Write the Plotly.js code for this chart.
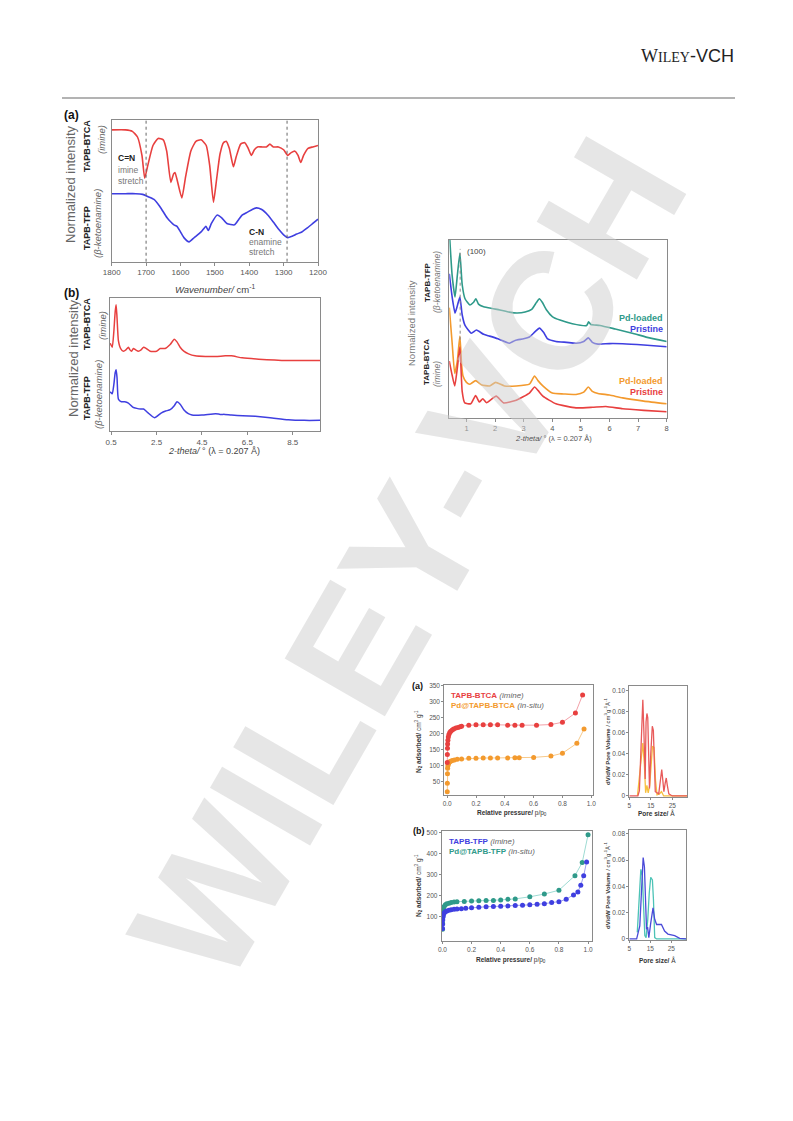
<!DOCTYPE html>
<html><head><meta charset="utf-8">
<script src="https://cdn.plot.ly/plotly-3.0.1.min.js"></script>
<style>html,body{margin:0;padding:0;background:#fff}#g{width:793px;height:1121px}</style>
</head><body><div id="g"></div>
<script>
// ---------- DATA ----------
// FTIR (a)
const ftirImineX = [1800,1760,1740,1725,1712,1704,1695,1680,1665,1650,1640,1628,1620,1616,1610,1596,1585,1570,1555,1540,1525,1515,1504,1495,1485,1475,1467,1458,1446,1438,1425,1413,1403,1394,1385,1376,1365,1350,1340,1330,1315,1300,1288,1278,1267,1258,1250,1242,1229,1215,1200];
const ftirImineY = [93,93,92,88,75,59,68,82,87,86,78,56,62,63,58,45,60,78,85,86,82,68,42,58,76,84,85,80,67,74,83,84,80,75,79,81,81,81,83,81,81,79,75,77,78,75,70,75,80,81,82];
const ftirEnamineX = [1800,1760,1730,1710,1695,1677,1660,1639,1628,1619,1610,1600,1590,1575,1560,1540,1526,1519,1510,1493,1480,1465,1443,1430,1420,1405,1390,1379,1365,1346,1330,1315,1300,1288,1275,1262,1247,1230,1215,1200];
const ftirEnamineY = [48,48,48,47.5,46,44,39,31,28,26,25,21,17,14,17,21,25,22,27,33,31,27,26,30,33,35,37,38,37,33,28,23,19,17,18,19.5,21,24,27,30];
const ftirTicks = [1800,1700,1600,1500,1400,1300,1200];
const ftirMarkers = [1700,1290];

// PXRD (b) small
const xrdImineX = [0.46,0.55,0.62,0.68,0.72,0.76,0.82,0.92,1.04,1.15,1.26,1.33,1.4,1.48,1.58,1.7,1.82,1.93,2.05,2.22,2.5,2.66,2.88,3.1,3.28,3.4,3.54,3.7,3.91,4.2,4.65,5.1,5.53,5.8,6.27,7.0,8.3,9.7];
const xrdImineY = [66,63,75,90,95,85,68,62,60,61,63,61,60,62,61,60,61,63,62,60,60,62,62,65,69,67,63,60,58,56.5,56,56,56.5,56.5,55,54,53,53];
const xrdEnamineX = [0.46,0.55,0.62,0.68,0.72,0.76,0.82,0.95,1.1,1.26,1.45,1.63,1.8,1.93,2.1,2.41,2.7,2.9,3.1,3.28,3.4,3.55,3.7,3.9,4.06,4.5,5.1,5.3,5.5,5.8,6.3,6.85,7.5,8.3,9.0,9.7];
const xrdEnamineY = [29.5,28,35,44,46,40,24,22,22,21,18,17,16.5,16.5,14,10,13.5,15,16,19,22,20,16,13,12,12,13,12.5,12.5,12,11.5,11,10,8.5,8,8];
const xrdSmallTicks = [0.5,2.5,4.5,6.5,8.5];

// PXRD right (Pd-loaded vs pristine)
const pdTfpX = [0.4,0.5,0.6,0.68,0.77,0.85,0.95,1.12,1.25,1.33,1.42,1.6,1.9,2.17,2.5,2.76,3.05,3.28,3.45,3.55,3.65,3.8,4.0,4.27,4.7,5.2,5.27,5.35,5.67,6.2,6.83,7.4,8.0];
const pdTfpY = [105,80,68,80,92.5,75,67,63.5,65,67,64,62.5,61.5,60.7,59.5,59,59.5,61,65,67,65,60.7,57,55,53,52,54,52.5,52,50,47.5,45,43];
const tfpX = [0.4,0.5,0.6,0.68,0.77,0.85,0.95,1.17,1.35,1.6,1.81,2.1,2.5,2.7,3.0,3.2,3.4,3.55,3.7,3.84,4.13,4.5,4.83,5.1,5.26,5.4,5.6,6.0,6.46,7.2,8.0];
const tfpY = [81,68,59,63,68,58,52,47.6,49.4,47,46,44.5,42,43.6,44.5,45.5,48.5,50.5,48,44.4,43,42.5,42,43,45,42.5,41.5,41.8,41.7,41,40];
const pdBtcaX = [0.4,0.5,0.59,0.68,0.77,0.83,0.88,1.0,1.12,1.32,1.52,1.81,2.02,2.33,2.74,3.2,3.38,3.5,3.67,4.0,4.4,4.83,5.1,5.26,5.4,5.6,6.0,6.46,7.2,8.0];
const pdBtcaY = [62,42,25,32,46,30,23.6,20,19,21,18.7,18,20,18,18,19,23.6,21,18,14,13.5,13.2,14.5,17.4,15,13.8,12.9,11.3,9.5,8];
const btcaX = [0.4,0.5,0.59,0.68,0.77,0.85,0.94,1.15,1.32,1.45,1.57,1.7,2.04,2.3,2.74,3.2,3.38,3.5,3.67,4.13,4.83,5.4,5.87,6.46,7.2,8.0];
const btcaY = [32,24,18,28,40,15,8.5,8,12.6,9,10.8,8.6,12.3,8.5,10,14,17.4,15.5,12.3,8,5.7,6,6.5,5.2,4.3,3.5];
const peak100 = 0.78;

// N2 isotherms (a)
const isoBtcaP = [0.0005,0.001,0.002,0.003,0.005,0.008,0.012,0.018,0.025,0.035,0.045,0.06,0.075,0.09,0.1,0.15,0.2,0.25,0.3,0.35,0.42,0.47,0.52,0.62,0.72,0.8,0.89,0.94];
const isoBtcaN = [110,135,155,168,180,190,198,204,208,212,215,218,220,222,224,227,228,228,228,228,227,227,227,227,229,236,265,322];
const isoPdBtcaP = [0.0005,0.001,0.002,0.003,0.005,0.008,0.012,0.018,0.025,0.035,0.05,0.07,0.1,0.15,0.2,0.25,0.3,0.35,0.42,0.47,0.5,0.6,0.72,0.8,0.9,0.95];
const isoPdBtcaN = [18,45,75,92,100,105,109,112,114,116,118,120,121,123,123,124,124,124,124,125,125,126,130,139,170,215];
// N2 isotherms (b)
const isoTfpP = [0.0005,0.001,0.002,0.004,0.007,0.012,0.02,0.03,0.045,0.06,0.08,0.1,0.13,0.16,0.2,0.25,0.3,0.35,0.4,0.45,0.5,0.55,0.6,0.65,0.7,0.75,0.8,0.85,0.9,0.93,0.95,0.97,0.99];
const isoTfpN = [45,65,85,100,110,118,124,128,131,134,136,137,139,141,143,146,148,149,150,152,154,155,157,160,162,168,172,183,203,218,249,295,360];
const isoPdTfpP = [0.0005,0.001,0.002,0.004,0.007,0.012,0.02,0.03,0.045,0.06,0.08,0.1,0.15,0.2,0.25,0.3,0.35,0.4,0.45,0.5,0.6,0.7,0.8,0.91,0.96,1.0];
const isoPdTfpN = [42,70,100,125,140,149,157,162,165,168,170,172,173,175,176,177,178,180,183,185,195,208,226,295,357,488];
const pTicks = [0,0.2,0.4,0.6,0.8,1.0];
const pTickText = ['0.0','0.2','0.4','0.6','0.8','1.0'];
const isoATicks = [50,100,150,200,250,300,350];
const isoBTicks = [100,200,300,400,500];

// Pore size distributions
const poreBtcaW = [5,9,9.7,10.5,11.3,11.8,12.4,12.8,13.2,13.6,14.4,15.0,15.7,16.2,17.1,18.7,19.4,20.1,20.6,21.1,21.7,22.2,22.7,23.4,25,32];
const poreBtcaV = [0,0,0.005,0.05,0.091,0.06,0.016,0.07,0.078,0.074,0.007,0.04,0.066,0.062,0.004,0.002,0.015,0.025,0.015,0.004,0.012,0.017,0.01,0.002,0,0];
const porePdBtcaW = [8.8,9.3,10.3,11.3,12.0,12.6,13.2,13.8,14.5,15.2,15.8,16.5,17.2,17.9,19,20,21,32];
const porePdBtcaV = [0,0.01,0.03,0.05,0.03,0.003,0.01,0.003,0.01,0.035,0.047,0.046,0.015,0.001,0.002,0.004,0,0];
const poreTfpW = [5,8.5,10,11,11.6,12.2,13.2,13.7,14.3,15.2,16.3,17.1,18.0,18.7,20.3,21.8,23.4,26.6,29,32];
const poreTfpV = [0,0,0.01,0.045,0.062,0.055,0.0075,0.009,0.001,0.012,0.0236,0.015,0.011,0.011,0.011,0.006,0.0037,0.0025,0.0005,0];
const porePdTfpW = [8.8,9.6,10.5,11.2,12.4,13.0,13.8,14.5,15.2,16.0,16.5,17.1,18,32];
const porePdTfpV = [0.005,0.03,0.053,0.048,0.0025,0.001,0.015,0.035,0.047,0.045,0.03,0.001,0,0];
const poreXTicks = [5,15,25];
const poreATicks = [0,0.02,0.04,0.06,0.08,0.10];
const poreATickText = ['0','0.02','0.04','0.06','0.08','0.10'];
const poreBTicks = [0,0.02,0.04,0.06,0.08];
const poreBTickText = ['0','0.02','0.04','0.06','0.08'];

// ---------- LAYOUT HELPERS ----------
const W = 793, H = 1121;
const X = p => p / W, Y = p => 1 - p / H;
const FONT = 'Liberation Sans, Arial, sans-serif';
const C = {red:'#e8403f', blue:'#3f3fe0', teal:'#2f9a8a', orange:'#f39a2e',
           redL:'#f2a0a8', orangeL:'#f7c98a', blueL:'#9fa0f0', tealL:'#9edbd3',
           poreRed:'#e85a5a', poreOr:'#f7c03e', poreBlue:'#4a4ad8', poreTeal:'#4cc3b6'};

function axis(x0, x1, range, opts) {
  return Object.assign({
    domain: [X(x0), X(x1)], range: range, showline: true, mirror: true,
    linecolor: '#8a8a8a', linewidth: 1, ticks: 'outside', ticklen: 3, tickcolor: '#8a8a8a',
    tickfont: {family: FONT, size: 8, color: '#555'}, showgrid: false, zeroline: false
  }, opts || {});
}
function yaxis(y0, y1, range, opts) {
  return Object.assign({
    domain: [Y(y1), Y(y0)], range: range, showline: true, mirror: true,
    linecolor: '#8a8a8a', linewidth: 1, showgrid: false, zeroline: false,
    ticks: '', showticklabels: false,
    tickfont: {family: FONT, size: 6.5, color: '#555'}
  }, opts || {});
}
const annotations = [];
function ann(text, x, y, o) {
  o = o || {};
  annotations.push({text: text, x: X(x), y: Y(y), xref: 'paper', yref: 'paper', showarrow: false,
    xanchor: o.xa || 'center', yanchor: o.ya || 'middle', textangle: o.rot || 0,
    font: {family: o.family || FONT, size: o.size || 9, color: o.color || '#333'}});
}

// ---------- TRACES ----------
const line = (x, y, xa, ya, color, w, extra) => Object.assign({
  x: x, y: y, xaxis: xa, yaxis: ya, type: 'scatter', mode: 'lines',
  line: {color: color, width: w || 1.5, shape: 'spline', smoothing: 0.5}, hoverinfo: 'skip'}, extra || {});
const iso = (x, y, xa, ya, mc, lc) => ({
  x: x, y: y, xaxis: xa, yaxis: ya, type: 'scatter', mode: 'lines+markers',
  line: {color: lc, width: 1}, marker: {color: mc, size: 5}, hoverinfo: 'skip'});

const data = [
  line(ftirImineX, ftirImineY, 'x', 'y', C.red, 1.6),
  line(ftirEnamineX, ftirEnamineY, 'x', 'y', C.blue, 1.6),
  line(xrdImineX, xrdImineY, 'x2', 'y2', C.red, 1.5),
  line(xrdEnamineX, xrdEnamineY, 'x2', 'y2', C.blue, 1.5),
  line(pdTfpX, pdTfpY, 'x3', 'y3', C.teal, 1.6),
  line(tfpX, tfpY, 'x3', 'y3', C.blue, 1.6),
  line(pdBtcaX, pdBtcaY, 'x3', 'y3', C.orange, 1.6),
  line(btcaX, btcaY, 'x3', 'y3', C.red, 1.6),
  iso(isoPdBtcaP, isoPdBtcaN, 'x4', 'y4', C.orange, C.orangeL),
  iso(isoBtcaP, isoBtcaN, 'x4', 'y4', C.red, C.redL),
  line(porePdBtcaW, porePdBtcaV, 'x5', 'y5', C.poreOr, 1.3, {line:{color:C.poreOr,width:1.3}}),
  line(poreBtcaW, poreBtcaV, 'x5', 'y5', C.poreRed, 1.3, {line:{color:C.poreRed,width:1.3}}),
  iso(isoPdTfpP, isoPdTfpN, 'x6', 'y6', C.teal, C.tealL),
  iso(isoTfpP, isoTfpN, 'x6', 'y6', C.blue, C.blueL),
  line(porePdTfpW, porePdTfpV, 'x7', 'y7', C.poreTeal, 1.3, {line:{color:C.poreTeal,width:1.3}}),
  line(poreTfpW, poreTfpV, 'x7', 'y7', C.poreBlue, 1.3, {line:{color:C.poreBlue,width:1.3}})
];

// ---------- ANNOTATIONS ----------
// watermark (drawn first so other texts sit on top)
annotations.push({text:'<b>WILEY-VCH</b>', x:X(408), y:Y(560), xref:'paper', yref:'paper', showarrow:false,
  textangle:-60, font:{family:FONT, size:168, color:'rgba(205,205,205,0.5)'}});
// header
ann('<span style="font-family:Liberation Serif">W<span style="font-size:14px">ILEY</span></span>-VCH', 736, 56, {xa:'right', size:18, color:'#222'});
// FTIR (a)
ann('<b>(a)</b>', 62, 115, {xa:'left', size:12, color:'#111'});
ann('Normalized intensity', 71, 184, {rot:-90, size:13, color:'#666'});
ann('<b>TAPB-TFP</b>', 87, 228, {rot:-90, size:9, color:'#222'});
ann('<b>TAPB-BTCA</b>', 87, 146, {rot:-90, size:9, color:'#222'});
ann('<i>(β-ketoenamine)</i>', 98, 224, {rot:-90, size:9.5, color:'#666'});
ann('<i>(imine)</i>', 102, 140, {rot:-90, size:9.5, color:'#666'});
ann('<b>C=N</b>', 116, 158, {xa:'left', size:8.5, color:'#222'});
ann('imine', 116, 170, {xa:'left', size:8.5, color:'#777'});
ann('stretch', 116, 181, {xa:'left', size:8.5, color:'#777'});
ann('<b>C-N</b>', 247, 232, {xa:'left', size:8.5, color:'#222'});
ann('enamine', 247, 242, {xa:'left', size:8.5, color:'#777'});
ann('stretch', 247, 252, {xa:'left', size:8.5, color:'#777'});
ann('<i>Wavenumber/</i> cm<sup>-1</sup>', 215, 289, {size:9.5, color:'#444'});
// PXRD (b)
ann('<b>(b)</b>', 62, 293, {xa:'left', size:12, color:'#111'});
ann('Normalized intensity', 73, 358, {rot:-90, size:13, color:'#666'});
ann('<b>TAPB-TFP</b>', 87, 398, {rot:-90, size:9, color:'#222'});
ann('<b>TAPB-BTCA</b>', 87, 324, {rot:-90, size:9, color:'#222'});
ann('<i>(β-ketoenamine)</i>', 98, 395, {rot:-90, size:9.5, color:'#666'});
ann('<i>(imine)</i>', 102, 326, {rot:-90, size:9.5, color:'#666'});
ann('<i>2-theta/</i> ° (λ = 0.207 Å)', 214, 451, {size:9, color:'#444'});
// right PXRD
ann('Normalized intensity', 411, 323, {rot:-90, size:9.5, color:'#777'});
ann('<b>TAPB-TFP</b>', 427, 282, {rot:-90, size:8, color:'#222'});
ann('<i>(β-ketoenamine)</i>', 437, 282, {rot:-90, size:8.5, color:'#777'});
ann('<b>TAPB-BTCA</b>', 427, 362, {rot:-90, size:8, color:'#222'});
ann('<i>(imine)</i>', 437, 374, {rot:-90, size:8.5, color:'#777'});
ann('(100)', 465, 251, {xa:'left', size:8, color:'#444'});
ann('<b>Pd-loaded</b>', 665, 318, {xa:'right', size:9, color:C.teal});
ann('<b>Pristine</b>', 665, 329, {xa:'right', size:9, color:C.blue});
ann('<b>Pd-loaded</b>', 665, 381, {xa:'right', size:9, color:C.orange});
ann('<b>Pristine</b>', 665, 392, {xa:'right', size:9, color:C.red});
ann('<i>2-theta/</i> ° (λ = 0.207 Å)', 553, 439, {size:7.5, color:'#555'});
// isotherm (a)
ann('<b>(a)</b>', 410, 686, {xa:'left', size:9, color:'#111'});
ann('<b>TAPB-BTCA</b> <i><span style="color:#666">(imine)</span></i>', 449, 695, {xa:'left', size:8, color:C.red});
ann('<b>Pd@TAPB-BTCA</b> <i><span style="color:#666">(in-situ)</span></i>', 449, 705, {xa:'left', size:8, color:C.orange});
ann('<b>N<sub>2</sub> adsorbed/</b> cm<sup>3</sup> g<sup>-1</sup>', 418, 742, {rot:-90, size:6.5, color:'#333'});
ann('<b>Relative pressure/</b> p/p<sub>0</sub>', 512, 813, {size:6.5, color:'#333'});
ann('<b>dV/dW Pore Volume</b> / cm<sup>3</sup>g<sup>-1</sup>Å<sup>-1</sup>', 607, 742, {rot:-90, size:6, color:'#333'});
ann('<b>Pore size/</b> Å', 656, 813, {size:6.5, color:'#333'});
// isotherm (b)
ann('<b>(b)</b>', 411, 831, {xa:'left', size:9, color:'#111'});
ann('<b>TAPB-TFP</b> <i><span style="color:#666">(imine)</span></i>', 447, 841, {xa:'left', size:8, color:C.blue});
ann('<b>Pd@TAPB-TFP</b> <i><span style="color:#666">(in-situ)</span></i>', 447, 851, {xa:'left', size:8, color:C.teal});
ann('<b>N<sub>2</sub> adsorbed/</b> cm<sup>3</sup> g<sup>-1</sup>', 418, 886, {rot:-90, size:6.5, color:'#333'});
ann('<b>Relative pressure/</b> p/p<sub>0</sub>', 511, 960, {size:6.5, color:'#333'});
ann('<b>dV/dW Pore Volume</b> / cm<sup>3</sup>g<sup>-1</sup>Å<sup>-1</sup>', 607, 886, {rot:-90, size:6, color:'#333'});
ann('<b>Pore size/</b> Å', 657, 960, {size:6.5, color:'#333'});

const shapes = [
  {type:'line', xref:'paper', yref:'paper', x0:X(62), x1:X(735), y0:Y(98), y1:Y(98), line:{color:'#b3b3b3', width:2}},
  ...ftirMarkers.map(v => ({type:'line', xref:'x', yref:'y domain', x0:v, x1:v, y0:0, y1:1, line:{color:'#666', width:1, dash:'dot'}})),
  {type:'line', xref:'x3', yref:'y3', x0:peak100, x1:peak100, y0:44, y1:95, line:{color:'#888', width:1, dash:'dot'}}
];

const smallTick = {family:FONT, size:6.5, color:'#555'};
const layout = {
  width: W, height: H, margin: {l:0, r:0, t:0, b:0}, showlegend: false,
  paper_bgcolor: '#fff', plot_bgcolor: 'rgba(0,0,0,0)', font: {family: FONT},
  xaxis: axis(111.7, 318, [1800, 1200], {tickvals: ftirTicks}),
  yaxis: yaxis(120, 261.7, [0, 100]),
  xaxis2: axis(110, 320, [0.45, 9.7], {tickvals: xrdSmallTicks, ticktext: xrdSmallTicks.map(v => v.toFixed(1))}),
  yaxis2: yaxis(298, 431, [0, 100]),
  xaxis3: axis(449.3, 666.7, [0.4, 8], {tickvals: [1,2,3,4,5,6,7,8], tickfont:{family:FONT,size:7.5,color:'#555'}}),
  yaxis3: yaxis(240, 418, [0, 100]),
  xaxis4: axis(444.3, 592.7, [-0.02, 1.01], {tickvals: pTicks, ticktext: pTickText, tickfont: smallTick, ticklen: 2}),
  yaxis4: yaxis(685, 795, [8, 353], {ticks:'outside', ticklen:2, tickcolor:'#8a8a8a', showticklabels:true, tickvals: isoATicks}),
  xaxis5: axis(629.3, 687.3, [5, 32], {tickvals: poreXTicks, tickfont: smallTick, ticklen: 2}),
  yaxis5: yaxis(686, 797, [-0.001, 0.104], {ticks:'outside', ticklen:2, tickcolor:'#8a8a8a', showticklabels:true, tickvals: poreATicks, ticktext: poreATickText}),
  xaxis6: axis(441.7, 591.7, [-0.005, 1.025], {tickvals: pTicks, ticktext: pTickText, tickfont: smallTick, ticklen: 2}),
  yaxis6: yaxis(831, 941, [-14, 506], {ticks:'outside', ticklen:2, tickcolor:'#8a8a8a', showticklabels:true, tickvals: isoBTicks}),
  xaxis7: axis(629.3, 686, [5, 32], {tickvals: poreXTicks, tickfont: smallTick, ticklen: 2}),
  yaxis7: yaxis(830, 940, [-0.0008, 0.083], {ticks:'outside', ticklen:2, tickcolor:'#8a8a8a', showticklabels:true, tickvals: poreBTicks, ticktext: poreBTickText}),
  annotations: annotations, shapes: shapes
};
['xaxis','xaxis2','xaxis3','xaxis4','xaxis5','xaxis6','xaxis7'].forEach((k,i)=>{ layout[k].anchor = i===0?'y':'y'+(i+1); });
['yaxis','yaxis2','yaxis3','yaxis4','yaxis5','yaxis6','yaxis7'].forEach((k,i)=>{ layout[k].anchor = i===0?'x':'x'+(i+1); });
Plotly.newPlot('g', data, layout, {staticPlot: true, displayModeBar: false});
</script></body></html>
